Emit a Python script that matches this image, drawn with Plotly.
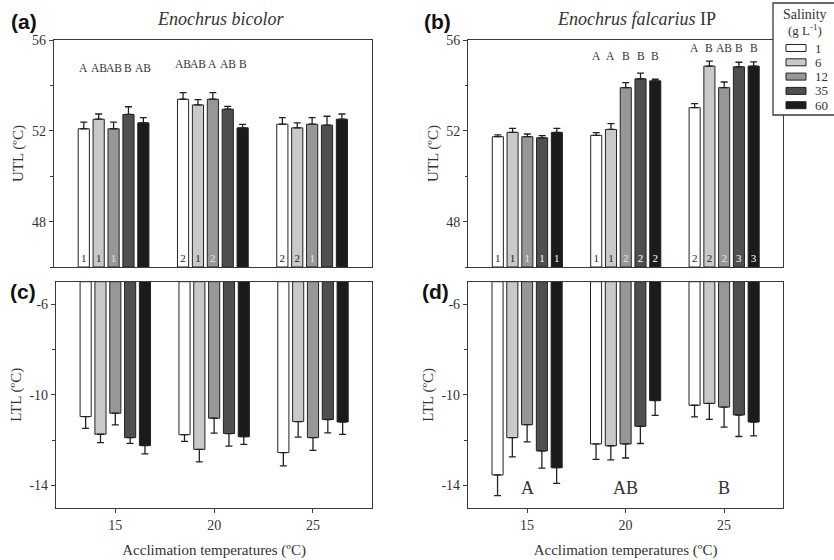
import plotly.graph_objects as go

# ---------------- data ----------------
temps = [15, 20, 25]
salinity_labels = ["1", "6", "12", "35", "60"]
bar_colors = ["#ffffff", "#c9c9c9", "#979797", "#4f4f4f", "#1b1b1b"]
num_text_colors = ["#222222", "#222222", "#e6e6e6", "#ffffff", "#ffffff"]

# Upper thermal limits (rows = salinity, cols = acclimation temperature)
utl_bicolor = [[52.09, 53.39, 52.29], [52.51, 53.14, 52.13], [52.09, 53.39, 52.29],
               [52.72, 52.95, 52.25], [52.35, 52.13, 52.51]]
utl_bicolor_err = [[0.29, 0.29, 0.29], [0.23, 0.23, 0.22], [0.29, 0.29, 0.29],
                   [0.34, 0.13, 0.39], [0.23, 0.15, 0.23]]
utl_falcarius = [[51.74, 51.80, 53.02], [51.93, 52.06, 54.85], [51.74, 53.90, 53.90],
                 [51.69, 54.29, 54.82], [51.93, 54.20, 54.85]]
utl_falcarius_err = [[0.08, 0.12, 0.18], [0.18, 0.26, 0.22], [0.12, 0.22, 0.25],
                     [0.10, 0.25, 0.20], [0.18, 0.07, 0.19]]

# Lower thermal limits
ltl_bicolor = [[-10.96, -11.76, -12.55], [-11.74, -12.41, -11.18], [-10.81, -11.03, -11.89],
               [-11.89, -11.71, -11.09], [-12.24, -11.85, -11.20]]
ltl_bicolor_err = [[0.52, 0.30, 0.59], [0.37, 0.55, 0.69], [0.52, 0.66, 0.56],
                   [0.25, 0.56, 0.59], [0.37, 0.34, 0.55]]
ltl_falcarius = [[-13.54, -12.17, -10.46], [-11.89, -12.25, -10.38], [-11.32, -12.17, -10.54],
                 [-12.48, -11.39, -10.89], [-13.22, -10.25, -11.20]]
ltl_falcarius_err = [[0.91, 0.68, 0.51], [0.85, 0.62, 0.70], [0.76, 0.62, 0.89],
                     [0.76, 0.76, 0.95], [0.69, 0.66, 0.61]]

# group numbers printed at bar bottoms (UTL panels)
nums_bicolor = [["1", "2", "2"], ["1", "1", "2"], ["1", "2", "1"], None, None]
nums_falcarius = [["1", "1", "2"], ["1", "1", "2"], ["1", "2", "2"], ["1", "2", "3"], ["1", "2", "3"]]

# letters above bars (rows = salinity, cols = temperature)
letters_bicolor = [["A", "AB", ""], ["AB", "AB", ""], ["AB", "A", ""], ["B", "AB", ""], ["AB", "B", ""]]
letters_bicolor_y = [54.76, 54.93, None]
letters_falcarius = [["", "A", "A"], ["", "A", "B"], ["", "B", "AB"], ["", "B", "B"], ["", "B", "B"]]
letters_falcarius_y = [None, 55.3, 55.66]
ltl_falc_group_letters = ["A", "AB", "B"]
ltl_falc_group_letters_y = -14.1

# tick labels
utl_tick_vals = [48, 52, 56]
utl_tick_text = ["48", "52", "56"]
ltl_tick_vals = [-14, -10, -6]
ltl_tick_text = ["-14", "-10", "-6"]

utl_range = [46, 56]
ltl_range = [-15, -5]

# ---------------- figure ----------------
W, H = 834, 560
BARGAP, BARGROUPGAP = 0.25, 0.25
SERIF = "Liberation Serif"
AX = "#3a3a3a"

fig = go.Figure()

panels = [
    ("x", "y", utl_bicolor, utl_bicolor_err, nums_bicolor, "utl"),
    ("x2", "y2", utl_falcarius, utl_falcarius_err, nums_falcarius, "utl"),
    ("x3", "y3", ltl_bicolor, ltl_bicolor_err, None, "ltl"),
    ("x4", "y4", ltl_falcarius, ltl_falcarius_err, None, "ltl"),
]

for xa, ya, vals, errs, nums, kind in panels:
    for i, lab in enumerate(salinity_labels):
        if kind == "utl":
            base = utl_range[0]
            err = dict(type="data", symmetric=False, array=errs[i], arrayminus=[0] * len(temps))
        else:
            base = ltl_range[1]
            err = dict(type="data", symmetric=False, array=[0] * len(temps), arrayminus=errs[i])
        err.update(color="#222222", thickness=1.3, width=3.5)
        tr = dict(
            x=temps, y=[v - base for v in vals[i]], base=base, name=lab,
            xaxis=xa, yaxis=ya, showlegend=False, hoverinfo="skip",
            marker=dict(color=bar_colors[i], line=dict(color="#222222", width=1)),
            error_y=err,
        )
        if nums is not None and nums[i] is not None:
            tr.update(text=nums[i], textposition="inside", insidetextanchor="start",
                      textangle=0, constraintext="none",
                      textfont=dict(family=SERIF, size=11, color=num_text_colors[i]))
        else:
            tr.update(textposition="none")
        fig.add_trace(go.Bar(**tr))


def px_x(p):
    return p / W


def px_y(p):
    return 1 - p / H


common_x = dict(range=[12, 28], showline=True, mirror=True, linecolor=AX, linewidth=1.3,
                showgrid=False, zeroline=False, tickvals=temps, automargin=False,
                tickfont=dict(family=SERIF, size=14, color="#333"))
common_y = dict(showline=True, mirror=True, linecolor=AX, linewidth=1.3, showgrid=False,
                zeroline=False, ticks="outside", ticklen=4, tickcolor=AX, automargin=False,
                tickfont=dict(family=SERIF, size=14, color="#333"),
                title=dict(standoff=4, font=dict(family=SERIF, size=15, color="#333")))

utl_y = dict(common_y, range=utl_range, tickmode="array", tickvals=utl_tick_vals,
             ticktext=utl_tick_text,
             minor=dict(tickmode="linear", dtick=2, tick0=0, ticks="outside", ticklen=2.5,
                        tickcolor=AX))
ltl_y = dict(common_y, range=ltl_range, tickmode="array", tickvals=ltl_tick_vals,
             ticktext=ltl_tick_text,
             minor=dict(tickmode="linear", dtick=2, tick0=0, ticks="outside", ticklen=2.5,
                        tickcolor=AX))

xtitle = dict(text="Acclimation temperatures (ºC)", standoff=12,
              font=dict(family=SERIF, size=15, color="#333"))

fig.update_layout(
    width=W, height=H, margin=dict(l=0, r=0, t=0, b=0),
    paper_bgcolor="white", plot_bgcolor="white",
    barmode="group", bargap=BARGAP, bargroupgap=BARGROUPGAP, showlegend=False,
    font=dict(family=SERIF, color="#333"),
    xaxis=dict(common_x, domain=[px_x(54), px_x(371.7)], anchor="y", showticklabels=False, ticks=""),
    yaxis=dict(utl_y, domain=[px_y(267), px_y(40)], anchor="x",
               title=dict(common_y["title"], text="UTL (ºC)")),
    xaxis2=dict(common_x, domain=[px_x(468.3), px_x(783.2)], anchor="y2", showticklabels=False, ticks=""),
    yaxis2=dict(utl_y, domain=[px_y(267), px_y(40)], anchor="x2",
                title=dict(common_y["title"], text="UTL (ºC)")),
    xaxis3=dict(common_x, domain=[px_x(56), px_x(372.3)], anchor="y3", ticks="outside",
                ticklen=4, tickcolor=AX, title=xtitle),
    yaxis3=dict(ltl_y, domain=[px_y(508), px_y(281.7)], anchor="x3",
                title=dict(common_y["title"], text="LTL (ºC)")),
    xaxis4=dict(common_x, domain=[px_x(468), px_x(783.2)], anchor="y4", ticks="outside",
                ticklen=4, tickcolor=AX, title=xtitle),
    yaxis4=dict(ltl_y, domain=[px_y(508), px_y(281.7)], anchor="x4",
                title=dict(common_y["title"], text="LTL (ºC)")),
)

# letters above bars
slot = 5 * (1 - BARGAP) / len(salinity_labels)
annotations = []
for xa, letters, ys in [("x", letters_bicolor, letters_bicolor_y),
                        ("x2", letters_falcarius, letters_falcarius_y)]:
    ya = xa.replace("x", "y")
    for i in range(len(salinity_labels)):
        for j, t in enumerate(temps):
            if letters[i][j]:
                annotations.append(dict(
                    x=t + (i - (len(salinity_labels) - 1) / 2) * slot, y=ys[j],
                    xref=xa, yref=ya, text=letters[i][j], showarrow=False,
                    xanchor="center", yanchor="middle",
                    font=dict(family=SERIF, size=11.5, color="#333")))

for j, t in enumerate(temps):
    annotations.append(dict(x=t, y=ltl_falc_group_letters_y, xref="x4", yref="y4",
                            text=ltl_falc_group_letters[j], showarrow=False,
                            xanchor="center", yanchor="middle",
                            font=dict(family=SERIF, size=18, color="#333")))

# panel titles
annotations.append(dict(x=px_x(220), y=px_y(19), xref="paper", yref="paper",
                        xanchor="center", yanchor="middle",
                        text="<i>Enochrus bicolor</i>", showarrow=False,
                        font=dict(family=SERIF, size=18, color="#333")))
annotations.append(dict(x=px_x(636), y=px_y(19), xref="paper", yref="paper",
                        xanchor="center", yanchor="middle",
                        text="<i>Enochrus falcarius</i> IP", showarrow=False,
                        font=dict(family=SERIF, size=18, color="#333")))

# panel labels
for lab, xr, yc in [("(a)", 39, 22), ("(b)", 453, 22), ("(c)", 38, 291), ("(d)", 451, 291)]:
    annotations.append(dict(x=px_x(xr), y=px_y(yc), xref="paper", yref="paper",
                            xanchor="right", yanchor="middle", text="<b>%s</b>" % lab,
                            showarrow=False,
                            font=dict(family="Liberation Sans", size=21, color="#111")))

# legend (drawn manually)
shapes = [dict(type="rect", xref="paper", yref="paper", x0=px_x(773), x1=px_x(845),
               y0=px_y(115), y1=px_y(3), line=dict(color=AX, width=1.3),
               fillcolor="white", layer="above")]
annotations.append(dict(x=px_x(805), y=px_y(14), xref="paper", yref="paper",
                        xanchor="center", yanchor="middle",
                        text="Salinity", showarrow=False,
                        font=dict(family=SERIF, size=14, color="#333")))
annotations.append(dict(x=px_x(805), y=px_y(30), xref="paper", yref="paper",
                        xanchor="center", yanchor="middle",
                        text="(g L<sup>-1</sup>)", showarrow=False,
                        font=dict(family=SERIF, size=13, color="#333")))
for i, (lab, col) in enumerate(zip(salinity_labels, bar_colors)):
    yc = 48 + 14.3 * i
    shapes.append(dict(type="rect", xref="paper", yref="paper", x0=px_x(786), x1=px_x(806),
                       y0=px_y(yc + 3.5), y1=px_y(yc - 3.5), fillcolor=col,
                       line=dict(color="#222222", width=1), layer="above"))
    annotations.append(dict(x=px_x(813), y=px_y(yc), xref="paper", yref="paper",
                            xanchor="left", yanchor="middle", text=lab, showarrow=False,
                            font=dict(family=SERIF, size=13, color="#333")))

fig.update_layout(annotations=annotations, shapes=shapes)

fig.write_html("out.html", config={"displayModeBar": False},
               post_script="document.body.style.margin='0';document.body.style.overflow='hidden';")
